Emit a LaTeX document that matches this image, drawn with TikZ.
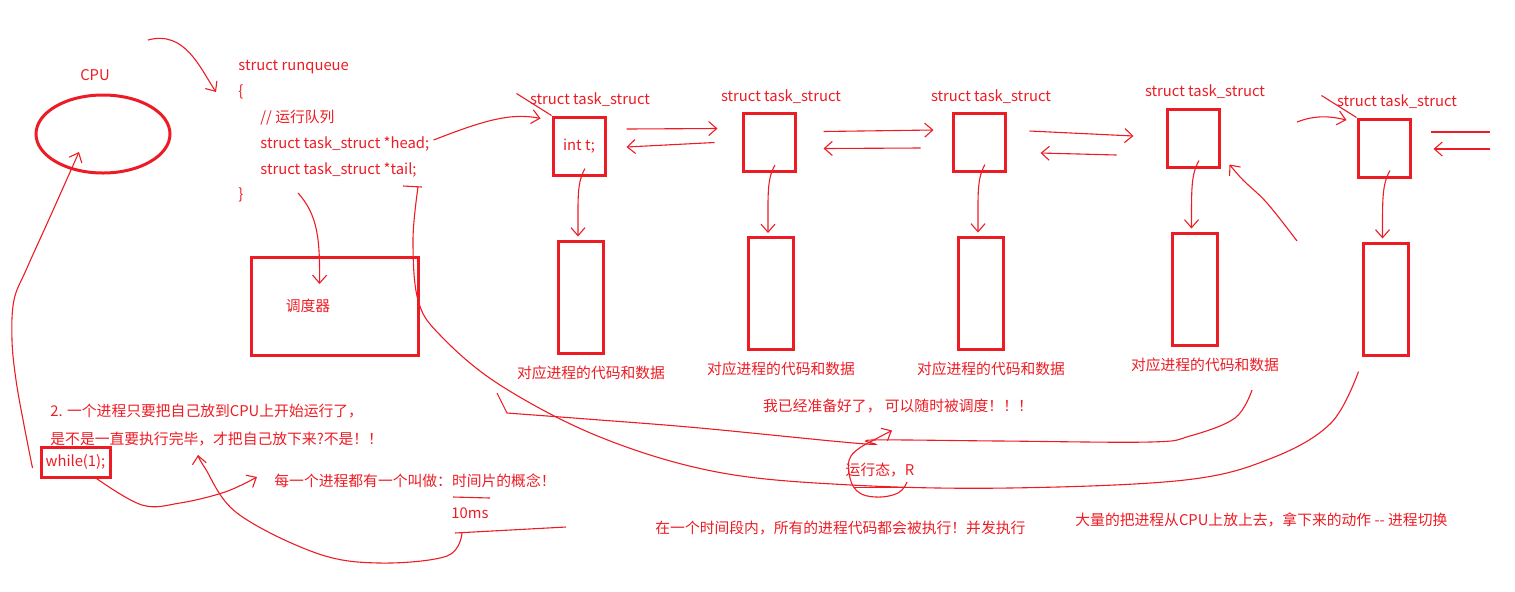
\documentclass[tikz,border=0pt]{standalone}
\usepackage{fontspec}
\setmainfont{Noto Sans CJK SC}
\usetikzlibrary{arrows.meta, shapes.geometric, positioning}
\definecolor{skred}{RGB}{237,28,36}
\newcommand\skfont{\fontsize{7.4}{8.5}\selectfont}

\begin{document}
\begin{tikzpicture}[x=0.5pt, y=-0.5pt,
    sk/.style={draw=skred, line width=0.55pt},
    skarr/.style={sk, -{Straight Barb[length=4pt, width=7pt]}},
    lbl/.style={text=skred, font=\skfont, inner sep=0pt},
    redbox/.style={draw=skred, line width=1.5pt, inner sep=0pt},
    taskbox/.style={redbox, minimum width=26pt, minimum height=29pt, text=skred, font=\skfont},
    databox/.style={redbox, minimum width=22.5pt, minimum height=56pt}]
    \useasboundingbox (0,0) rectangle (1515,591);
    % cpu
    \node[lbl] (cpulbl) at (95,75) {CPU};
    \node[redbox, ellipse, minimum width=67pt, minimum height=39pt] (cpu) at (103,134) {};
    % runqueue
    \node[lbl, anchor=west] (rqname) at (238,67) {struct runqueue};
    \node[lbl, anchor=west] (rqopen) at (238,92) {\{};
    \node[lbl, anchor=west] (rqcmt) at (260,118) {// 运行队列};
    \node[lbl, anchor=west] (rqhead) at (260,144) {struct task\_struct *head;};
    \node[lbl, anchor=west] (rqtail) at (260,170) {struct task\_struct *tail;};
    \node[lbl, anchor=west] (rqclose) at (238,195) {\}};
    % scheduler
    \node[redbox, minimum width=83.5pt, minimum height=49pt] (sched) at (334.5,306) {};
    \node[lbl] (schedlbl) at (308,306) {调度器};
    % task structs
    \node[taskbox] (t1) at (579,146) {int t;};
    \node[taskbox] (t2) at (769,142.5) {};
    \node[taskbox] (t3) at (979,142) {};
    \node[taskbox] (t4) at (1193,138) {};
    \node[taskbox] (t5) at (1384,148) {};
    \node[lbl] (h1) at (590,100) {struct task\_struct};
    \node[lbl] (h2) at (781,97) {struct task\_struct};
    \node[lbl] (h3) at (991,97) {struct task\_struct};
    \node[lbl] (h4) at (1205,92) {struct task\_struct};
    \node[lbl] (h5) at (1397,102) {struct task\_struct};
    % code and data
    \node[databox] (d1) at (581,297) {};
    \node[databox] (d2) at (771,293.5) {};
    \node[databox] (d3) at (981,293) {};
    \node[databox] (d4) at (1194.5,289) {};
    \node[databox] (d5) at (1385.5,299) {};
    \node[lbl] (c1) at (591,373) {对应进程的代码和数据};
    \node[lbl] (c2) at (781,369) {对应进程的代码和数据};
    \node[lbl] (c3) at (991,369) {对应进程的代码和数据};
    \node[lbl] (c4) at (1205,365) {对应进程的代码和数据};
    % notes
    \node[lbl] (ready) at (898,406) {我已经准备好了， 可以随时被调度！！！};
    \node[lbl] (running) at (880,470) {运行态，R};
    \node[lbl, anchor=west] (q1) at (50,411) {2. 一个进程只要把自己放到CPU上开始运行了，};
    \node[lbl, anchor=west] (q2) at (50,439) {是不是一直要执行完毕，才把自己放下来?不是！！};
    \node[redbox, minimum width=34.5pt, minimum height=15pt, text=skred, font=\skfont] (spin) at (75.5,462) {while(1);};
    \node[lbl, anchor=west] (slice) at (274,481) {每一个进程都有一个叫做：时间片的概念！};
    \node[lbl] (ten) at (470,513) {10ms};
    \node[lbl, anchor=west] (conc) at (655,528) {在一个时间段内，所有的进程代码都会被执行！并发执行};
    \node[lbl, anchor=west] (switch) at (1075,520) {大量的把进程从CPU上放上去，拿下来的动作 -{}- 进程切换};
    % free ends
    \coordinate (rqfrom) at (148,40);
    \coordinate (schedfrom) at (298,193);
    \coordinate (tailhook) at (418,187);
    \coordinate (readyfrom) at (1252,390);
    \coordinate (dip) at (866,444);
    \coordinate (tenfrom) at (462,533);
    \coordinate (backfrom) at (1297,241);
    \coordinate (nextfrom) at (1297,122);
    \coordinate (edge1) at (1490,132);
    \coordinate (edge2) at (1490,149);
    % runqueue pointers
    \draw[skarr] (rqfrom) .. controls (185,30) and (200,68) .. ([xshift=-11pt]rqopen.west);
    \draw[skarr] ([xshift=2pt, yshift=2pt]rqhead.east) .. controls (480,122) and (510,112) .. ([xshift=-5.5pt, yshift=-1.5pt]t1.north west);
    \draw[sk] ([shift={(-35,-22)}]t1.north west) -- (t1.north west);
    \draw[sk] ([shift={(-35,-22)}]t5.north west) -- (t5.north west);
    \draw[skarr] (schedfrom) .. controls (318,215) and (320,240) .. ([shift={(-15,-22)}]sched.center);
    \draw[sk] (403,186) -- (422,187);
    \draw[sk] plot[smooth, tension=0.6] coordinates {(tailhook) (413,240) (418,300) (440,335) (500,385) (600,437) (717,472) (851,485) (1009,488) (1185,480) (1272,458) (1331,423) ([shift={(-3,15)}]d5.south west)};
    % list links
    \draw[skarr] ([shift={(20,-17)}]t1.east) -- ([shift={(-24,-14)}]t2.west);
    \draw[skarr] ([shift={(-27,0)}]t2.west) -- ([shift={(20,1)}]t1.east);
    \draw[skarr] ([shift={(27,-11)}]t2.east) -- ([shift={(-18,-12)}]t3.west);
    \draw[skarr] ([shift={(-31,6)}]t3.west) -- ([shift={(27,6)}]t2.east);
    \draw[skarr] ([shift={(23,-11)}]t3.east) -- ([shift={(-32,-2)}]t4.west);
    \draw[skarr] ([shift={(-49,17)}]t4.west) -- ([shift={(34,11)}]t3.east);
    \draw[skarr] (nextfrom) .. controls (1315,115) and (1330,116) .. ([shift={(-10,-28)}]t5.west);
    \draw[sk] ([shift={(19,-16)}]t5.east) -- (edge1);
    \draw[skarr] (edge2) -- ([shift={(22,1)}]t5.east);
    % struct to code and data
    \draw[skarr] ([shift={(6,-8)}]t1.south) .. controls +(-8,14) and +(0,-40) .. ([shift={(-3,-3)}]d1.north);
    \draw[skarr] ([shift={(6,-8)}]t2.south) .. controls +(-8,14) and +(0,-40) .. ([shift={(-3,-3)}]d2.north);
    \draw[skarr] ([shift={(6,-8)}]t3.south) .. controls +(-8,14) and +(0,-40) .. ([shift={(-3,-3)}]d3.north);
    \draw[skarr] ([shift={(6,-8)}]t4.south) .. controls +(-8,14) and +(0,-40) .. ([shift={(-3,-3)}]d4.north);
    \draw[skarr] ([shift={(6,-8)}]t5.south) .. controls +(-8,14) and +(0,-40) .. ([shift={(-3,-3)}]d5.north);
    \draw[skarr] plot[smooth, tension=0.6] coordinates {(backfrom) (1267,203) (1243,180) ([shift={(9,-4)}]t4.south east)};
    % ready and running
    \draw[sk] plot[smooth, tension=0.6] coordinates {(readyfrom) (1235,418) (1190,436) (1150,442) (1000,441) (872,440) (dip) (700,428) (600,420) (507,413)} -- (497,393);
    \draw[sk] plot[smooth, tension=0.7] coordinates {(dip) (851,456) (849,473) (857,491) (876,497) (898,493) (907,482)};
    \draw[sk] ([shift={(-26,10)}]running.south) -- ([shift={(42,10)}]running.south);
    \draw[skarr] (dip) -- ([shift={(-6,17)}]ready.south);
    % cpu and time slice
    \draw[skarr] plot[smooth, tension=0.6] coordinates {([shift={(-7,6)}]spin.west) (24,425) (16,380) (12,340) (14,300) (27,268) (50,217) ([shift={(-24,18)}]cpu.center)};
    \draw[skarr] plot[smooth, tension=0.6] coordinates {([xshift=-7.5pt]spin.south east) (142,505) (180,503) (225,492) ([shift={(-17,-4)}]slice.west)};
    \draw[sk] (453,497) -- (490,498);
    \draw[sk] (455,533) -- (566,527);
    \draw[skarr] plot[smooth, tension=0.6] coordinates {(tenfrom) (447,556) (379,563) (316,553) (237,513) (205,468) (198,455)};
\end{tikzpicture}
\end{document}
